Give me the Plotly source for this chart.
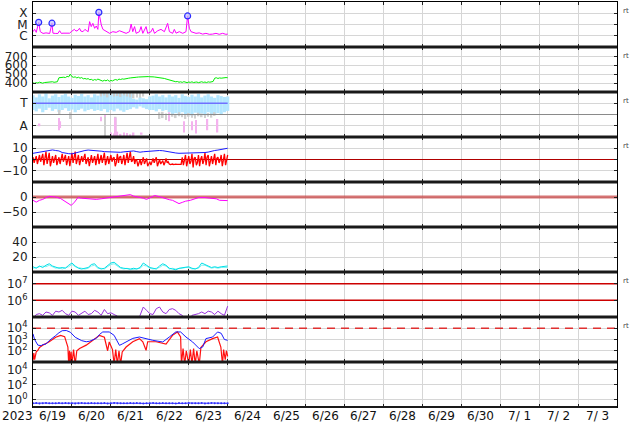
import plotly.graph_objects as go
from plotly.subplots import make_subplots
import pandas as pd

START = pd.Timestamp('2023-06-19')
END = pd.Timestamp('2023-07-04')

# ---------------- data (hours since 2023-06-19 00:00 UT) ----------------
xray_hours = [0, 1.0, 2.0, 3.5, 4.5, 6.2, 8, 10.3, 11.7, 12.3, 14, 15.4, 16.4, 17.5, 18.5, 20.5, 22.6, 23.6,
              24.6, 25.5, 26.5, 27.7, 28.7, 29.5, 30.8, 32.0, 32.8, 34.0, 34.9, 35.9, 36.9, 38.0, 39.0, 40.0,
              40.6, 42.1, 43.1, 45.1, 47.2, 49.2, 51.3, 53.3, 55.4, 57.4, 59.5, 60.5, 61.5, 62.6, 63.6, 65.6,
              66.6, 67.7, 69.7, 70.7, 72.8, 73.8, 74.9, 76.9, 78.9, 81.0, 83.0, 84.1, 86.1, 87.1, 88.2, 90.2,
              92.3, 94.3, 95.3, 96.4, 97.4, 100.5, 102.5, 104.6, 106.6, 108.7, 110.7, 112.8, 114.8, 116.9,
              118.9, 120]
xray_flux = [2.3e-6, 3.7e-6, 2.0e-6, 1.55e-5, 2.3e-6, 1.6e-6, 1.8e-6, 1.6e-6, 1.3e-5, 1.7e-6, 1.6e-6, 1.6e-6,
             2.8e-6, 1.6e-6, 1.7e-6, 1.6e-6, 1.7e-6, 2.3e-6, 2.8e-6, 3.7e-6, 2.6e-6, 3.0e-6, 4.6e-6, 2.6e-6,
             2.3e-6, 3.7e-6, 3.0e-6, 2.3e-6, 1.8e-5, 6.5e-6, 1.26e-5, 4.6e-6, 7.4e-6, 3.7e-6, 1.2e-4, 9.1e-6,
             3.7e-6, 2.3e-6, 1.64e-6, 2.3e-6, 2.0e-6, 2.8e-6, 2.0e-6, 1.64e-6, 2.3e-6, 1.1e-5, 2.3e-6, 6.5e-6,
             1.64e-6, 2.3e-6, 6.5e-6, 1.64e-6, 6.5e-6, 1.64e-6, 2.3e-6, 4.6e-6, 1.64e-6, 2.8e-6, 3.7e-6,
             2.3e-6, 1.26e-5, 2.3e-6, 1.64e-6, 3.7e-6, 1.7e-6, 2.3e-6, 1.64e-6, 2.3e-6, 5.75e-5, 4.6e-6,
             2.3e-6, 1.64e-6, 1.8e-6, 1.4e-6, 1.64e-6, 1.34e-6, 1.4e-6, 1.64e-6, 1.34e-6, 1.64e-6, 1.34e-6,
             1.4e-6]
flare_hours = [3.5, 11.7, 40.6, 95.3]
flare_flux = [1.55e-5, 1.3e-5, 1.2e-4, 5.75e-5]

speed_hours = list(range(121))
speed = [402, 398, 405, 401, 410, 404, 399, 406, 408, 403, 410, 407, 415, 409, 412, 415,
         460, 463, 458, 466, 462, 475, 470, 500, 472, 465,
         470, 458, 466, 455, 462, 448, 452, 445, 450, 438,
         442, 430, 440, 433, 445, 436, 428, 422, 432, 425,
         436, 420, 430, 424, 435, 440, 432, 445, 440, 447,
         444, 450, 452, 455, 458, 462, 460, 463, 466, 468,
         470, 472, 474, 472, 475, 473, 471, 474, 470, 468,
         466, 467, 463, 460, 455, 452, 446, 440, 436, 430,
         424, 420, 415, 418, 410, 414, 408, 416, 410, 405,
         412, 408, 414, 406, 410, 412, 405, 410, 415, 408,
         412, 406, 414, 410, 416, 418, 455, 460, 452, 458,
         455, 460, 457, 462, 460]

hours2 = list(range(0, 121, 2))
# sector panel: T = 0.75, A = 0.25
tband_hi = [0.93, 0.88, 0.95, 0.9, 0.97, 0.86, 0.92, 0.95, 0.89, 0.93, 0.96, 0.9, 0.87, 0.94, 0.91, 0.96, 0.9,
            0.93, 0.88, 0.95, 0.92,
            0.98, 0.97, 0.99, 0.96, 0.98, 0.99, 0.97, 0.95, 0.98, 0.96,
            0.85, 0.83, 0.88, 0.86, 0.84, 0.9,
            0.92, 0.95, 0.9, 0.93, 0.88, 0.94,
            0.9, 0.93, 0.87, 0.95, 0.91, 0.89, 0.94, 0.9, 0.96, 0.88, 0.92, 0.95, 0.9, 0.87, 0.93, 0.91, 0.89, 0.9]
tband_lo = [0.6, 0.57, 0.63, 0.55, 0.6, 0.65, 0.58, 0.62, 0.56, 0.6, 0.64, 0.58, 0.61, 0.55, 0.6, 0.63, 0.57,
            0.6, 0.62, 0.58, 0.6,
            0.58, 0.62, 0.55, 0.6, 0.57, 0.63, 0.59, 0.56, 0.6, 0.62,
            0.66, 0.63, 0.68, 0.65, 0.62, 0.6,
            0.6, 0.57, 0.62, 0.58, 0.6, 0.55,
            0.5, 0.53, 0.48, 0.55, 0.5, 0.52, 0.47, 0.54, 0.5, 0.52, 0.48, 0.55, 0.51, 0.5, 0.53, 0.49, 0.55, 0.58]
gray_hours = [16.4, 23.2, 42, 44, 46, 48, 50, 52, 54, 56, 58, 60, 62, 64, 66, 68, 44.5, 51, 78, 80, 82, 86, 88,
              90, 92, 94, 96, 98, 100, 102, 104, 106, 108, 110, 112]
gray_lo = [0.5, 0.4, 0.9, 0.92, 0.88, 0.93, 0.9, 0.91, 0.89, 0.92, 0.9, 0.88, 0.86, 0.88, 0.87, 0.9, 0.0, 0.1,
           0.4, 0.42, 0.38, 0.45, 0.42, 0.46, 0.44, 0.4, 0.45, 0.43, 0.41, 0.46, 0.44, 0.42, 0.45, 0.43, 0.47]
gray_hi = [0.6, 0.55, 1.0, 1.0, 1.0, 1.0, 0.99, 1.0, 1.0, 0.98, 1.0, 1.0, 0.97, 1.0, 0.98, 0.99, 0.5, 0.45,
           0.55, 0.56, 0.52, 0.52, 0.5, 0.55, 0.52, 0.5, 0.53, 0.51, 0.5, 0.54, 0.52, 0.5, 0.53, 0.52, 0.55]
pink_hours = [4, 16, 16.8, 42, 44.5, 51, 48, 50, 52, 54, 56, 58, 60, 62, 67, 84, 93, 98, 100.5, 107.5, 113.7]
pink_lo = [0.24, 0.15, 0.2, 0.35, 0.45, 0.02, 0.0, 0.0, 0.02, 0.0, 0.01, 0.0, 0.0, 0.02, 0.05, 0.35, 0.1, 0.15,
           0.08, 0.15, 0.1]
pink_hi = [0.3, 0.42, 0.35, 0.45, 0.5, 0.43, 0.1, 0.08, 0.12, 0.07, 0.1, 0.09, 0.06, 0.1, 0.1, 0.55, 0.35, 0.35,
           0.38, 0.4, 0.4]

bt = [5.5, 6, 6.5, 7.4, 7.8, 8.3, 8.5, 8, 7.6, 6.2, 5.4, 5.2, 5, 5.8, 6.6, 7.6, 8, 8.4, 8.3, 8.2, 8, 7.4, 7,
      6.8, 6.4, 6.3, 6.5, 6.4, 6.8, 7, 7.4, 7.6, 7, 6.5, 6.9, 7.1, 7.6, 8, 8.1, 8, 7.8, 7.2, 6.8, 6.3, 5.8,
      5.5, 5.6, 5.4, 5.5, 5.6, 5.5, 5.8, 6, 6.2, 6.6, 7.6, 8, 8.4, 9, 9.6, 10]
bz_hi = [2, 3, 4, 5, 7, 6, 3, 4, 2, 5, 4, 3, 6, 7, 4, 3, 5, 2, 4, 3, 5,
         4, 6, 3, 4, 2, 5, 3, 4, 6, 7, 3,
         -1, 0, 2, 1, -2, 1, 2, 0, -1, 1,
         -4, -4, -4.2, -4,
         2, 4, 3, 5, 2, 4, 3, 6, 4, 3, 5, 2, 4, 5, 4]
bz_lo = [-3, -4, -2, -5, -4, -6, -3, -5, -4, -2, -5, -6, -3, -4, -5, -2, -4, -6, -3, -5, -4,
         -3, -5, -4, -2, -6, -3, -4, -5, -3, -2, -4,
         -6, -5, -4, -6, -5, -3, -6, -4, -5, -3,
         -4.5, -4.6, -4.4, -4.5,
         -5, -6, -4, -7, -5, -6, -4, -5, -6, -4, -5, -3, -6, -5, -2]
# mid-interval values (odd hours between the hi/lo extremes), adds irregularity
bz_mid = [0, -1, 1, 0, 2, -2, 1, -1, 0, 1, -2, 0, 2, -1, 0, 1, -2, 0, 1, -1, 0,
          1, -2, 0, 1, -3, 2, -1, 0, 2, -1, 0,
          -3, -2, -1, -4, -2, -1, -3, -2, -3, -2,
          -4.3, -4.3, -4.3, -4.3,
          -1, 0, -2, 1, -3, 0, -1, 2, -2, 0, 1, -1, 0, 1, 0]

dst_hours = [0, 2, 4, 6, 8, 10, 12, 14, 17, 20.5, 23.6, 25.6, 27.7, 30, 33, 36, 39, 42, 45, 47, 50, 53, 55, 58,
             60, 62, 65, 68, 70, 72, 75, 78, 80, 82, 84, 86, 88, 90, 92, 94, 97, 100, 102, 106, 110, 113, 115,
             118, 120]
dst = [-11, -17, -11, -8, -2, 2, 1, 0, -5, -17, -28, -17, -2, -4, -5, -6, -8, -6, -4, -3, 0, 2, 3, 6, 8, 3, 0,
       -4, -8, -2, 5, 1, -3, -5, -9, -11, -16, -22, -18, -14, -11, -6, -2, -2, -3, -6, -11, -13, -12]

dens1 = [7, 5, 8, 6, 9, 11, 8, 6, 5, 6, 5, 9, 12, 8, 5, 4, 5, 6, 10, 11, 6, 4, 5, 9, 12, 13, 9, 6, 5, 4,
         4, 5, 4, 6, 12, 9, 6, 5, 4, 8, 11, 9, 5, 4, 3, 5, 6, 7, 7, 5, 4, 6, 12, 10, 8, 6, 7, 6, 7, 7, 8]
dens2 = [5, 6, 6, 8, 7, 9, 7, 5, 6, 4, 6, 7, 10, 7, 6, 5, 4, 5, 8, 9, 5, 5, 4, 7, 10, 11, 8, 5, 4, 5,
         3, 4, 5, 5, 9, 8, 5, 4, 5, 6, 9, 8, 4, 5, 4, 4, 5, 6, 6, 4, 5, 5, 9, 9, 7, 5, 6, 5, 6, 6, 6]

elec2_log = [4.9, 5.15, 5.2, 5.1, 5.3, 5.25, 5.1, 5.35, 5.3, 5.4, 5.2, 5.1, 5.35, 5.3, 5.1, 5.25, 5.35, 5.15,
             5.2, 5.4, 5.3, 5.1, 5.45, 5.2, 5.25, 5.15, 5.05,
             4.8, 4.8, 4.8, 4.8, 4.8, 4.8,
             5.1, 5.6, 5.4, 5.2, 5.15, 5.5, 5.6, 5.3, 5.2, 5.45, 5.5, 5.4, 5.2, 5.1, 4.9, 4.8, 5.1, 5.15, 5.2,
             5.3, 5.2, 5.35, 5.3, 5.15, 5.35, 5.2, 5.1, 5.65]

e_blue_hours = [0, 1, 3, 5, 6, 8, 10, 12, 14, 16, 18, 20.5, 23, 26, 28.7, 30, 32.8, 35, 39, 41, 43, 47, 50, 52,
                53.3, 55, 57.4, 61.5, 65.6, 69.7, 73.8, 77, 80, 84, 88, 91, 94.3, 98.4, 100.5, 102.5, 104.6,
                106.6, 110.7, 113.8, 116, 118, 120]
e_blue_log = [3.5, 3.0, 2.5, 2.45, 2.55, 2.6, 2.9, 3.1, 3.35, 3.6, 3.78, 3.8, 3.65, 3.2, 2.95, 2.9, 2.8, 2.85,
              3.1, 3.45, 3.67, 3.67, 3.37, 2.9, 2.48, 2.6, 2.8, 3.1, 3.22, 3.05, 2.93, 2.85, 2.78, 3.22, 3.67,
              3.67, 3.22, 2.78, 2.5, 2.19, 2.33, 3.08, 3.22, 3.67, 3.55, 3.0, 2.93]
e_red_hours = [0, 0.5, 1, 2, 3, 4, 6, 10, 14, 17, 19.5, 21.5, 22, 22.5, 23, 23.5, 24, 25, 26, 27, 28.7, 32.8,
               36.9, 41, 44, 46, 47, 49, 50, 51, 52, 53, 54, 55, 57.4, 61.5, 65.6, 67.7, 69.7, 70.7, 75.9, 82,
               86, 89, 91, 91.5, 92.5, 93.5, 94.5, 96, 97, 98, 99, 100, 101, 102.5, 103.5, 106.6, 110.7, 113.8,
               115.8, 116.8, 117.5, 118.5, 119.2, 120]
e_red_log = [1.15, 1.8, 1.2, 1.9, 2.04, 2.3, 2.48, 2.8, 3.2, 3.37, 3.25, 2.33, 0.8, 2.0, 0.8, 1.9, 0.8, 2.1,
             0.8, 2.0, 2.2, 2.5, 2.93, 3.37, 3.2, 2.0, 2.78, 2.1, 0.8, 2.1, 0.8, 2.0, 0.8, 1.9, 2.33, 2.8, 3.08,
             2.8, 2.04, 2.8, 2.8, 2.6, 3.37, 3.67, 3.22, 0.8, 2.2, 0.8, 2.0, 0.8, 2.1, 0.8, 2.2, 0.8, 2.0, 0.8,
             2.3, 2.8, 3.08, 3.22, 2.33, 0.8, 2.1, 1.2, 2.0, 1.5]

bottom_log = [-0.5, -0.48, -0.52, -0.5, -0.47, -0.5, -0.49, -0.51, -0.48, -0.5,
              -0.46, -0.5, -0.49, -0.52, -0.5, -0.48, -0.5, -0.51, -0.47, -0.5,
              -0.49, -0.5, -0.48, -0.52, -0.5, -0.46, -0.5, -0.49, -0.51, -0.5,
              -0.48, -0.5, -0.47, -0.5, -0.52, -0.49, -0.5, -0.48, -0.51, -0.5,
              -0.45, -0.5, -0.49, -0.5, -0.52, -0.48, -0.5, -0.5, -0.47, -0.51,
              -0.5, -0.49, -0.48, -0.52, -0.5, -0.47, -0.5, -0.49, -0.51, -0.5, -0.5]

day_labels = ['6/19', '6/20', '6/21', '6/22', '6/23', '6/24', '6/25', '6/26', '6/27', '6/28', '6/29',
              '6/30', '7/\u00a01', '7/\u00a02', '7/\u00a03']
year_label = '2023'

# ---------------- helpers ----------------
def t(hours):
    return [START + pd.Timedelta(hours=h) for h in hours]

FULL = [START, END]
DATA_SPAN = t([0, 120])

fig = make_subplots(rows=9, cols=1, shared_xaxes=True, vertical_spacing=0)

def add(tr, row):
    fig.add_trace(tr, row=row, col=1)

def hline(y, row, color, width=1, dash=None):
    add(go.Scatter(x=FULL, y=[y, y], mode='lines', line=dict(color=color, width=width, dash=dash),
                   hoverinfo='skip'), row)

# Row 1: X-ray
add(go.Scatter(x=t(xray_hours), y=xray_flux, mode='lines', line=dict(color='#ff00ff', width=1)), 1)
add(go.Scatter(x=t(flare_hours), y=flare_flux, mode='markers',
               marker=dict(symbol='circle', size=6, color='rgba(190,190,255,0.7)',
                           line=dict(color='#2a2aff', width=1.2))), 1)

# Row 2: solar wind speed
add(go.Scatter(x=t(speed_hours), y=speed, mode='lines', line=dict(color='#00ee00', width=1)), 2)

# Row 3: sector
add(go.Bar(x=t(hours2), y=[h - l for h, l in zip(tband_hi, tband_lo)], base=tband_lo, width=2 * 3600 * 1000,
           marker=dict(color='#b3e6ff', line=dict(width=0))), 3)
add(go.Bar(x=t(gray_hours), y=[h - l for h, l in zip(gray_hi, gray_lo)], base=gray_lo, width=1 * 3600 * 1000,
           marker=dict(color='#cfcfcf', line=dict(width=0))), 3)
add(go.Bar(x=t(pink_hours), y=[h - l for h, l in zip(pink_hi, pink_lo)], base=pink_lo, width=1 * 3600 * 1000,
           marker=dict(color='#f4b2ee', line=dict(width=0))), 3)
add(go.Scatter(x=FULL, y=[0.5, 0.5], mode='lines', line=dict(color='#8a8a8a', width=1)), 3)
add(go.Scatter(x=DATA_SPAN, y=[0.75, 0.75], mode='lines', line=dict(color='#7070ff', width=1.5)), 3)

# Row 4: IMF
hline(0, 4, '#b00000', 1.2)
bz_x, bz_y = [], []
for k in range(len(bz_hi)):
    bz_x.append(2 * k); bz_y.append(bz_hi[k])
    if k < len(bz_hi) - 1:
        bz_x += [2 * k + 0.7, 2 * k + 1.3]
        bz_y += [bz_lo[k], bz_mid[k]]
add(go.Scatter(x=t(bz_x), y=bz_y, mode='lines', line=dict(color='#ff0000', width=1.3)), 4)
add(go.Scatter(x=t(hours2), y=bt, mode='lines', line=dict(color='#1a1aff', width=1)), 4)

# Row 5: Dst
hline(0, 5, 'rgba(200,70,70,0.75)', 3)
add(go.Scatter(x=t(dst_hours), y=dst, mode='lines', line=dict(color='#ff00ff', width=1)), 5)

# Row 6: density
add(go.Scatter(x=t(hours2), y=dens2, mode='lines', line=dict(color='#7ff3f3', width=1)), 6)
add(go.Scatter(x=t(hours2), y=dens1, mode='lines', line=dict(color='#00e0e8', width=1)), 6)

# Row 7: >2MeV electrons
hline(1e6, 7, '#cc0000', 1.5)
hline(1e7, 7, '#cc0000', 1.5)
add(go.Scatter(x=t(hours2), y=[10 ** v for v in elec2_log], mode='lines', line=dict(color='#9933dd', width=1)), 7)

# Row 8
hline(1e4, 8, '#e03030', 1.5, '8px,6px')
add(go.Scatter(x=t(e_red_hours), y=[10 ** v for v in e_red_log], mode='lines', line=dict(color='#ff1010', width=1.2)), 8)
add(go.Scatter(x=t(e_blue_hours), y=[10 ** v for v in e_blue_log], mode='lines', line=dict(color='#1a1aff', width=1)), 8)

# Row 9
add(go.Scatter(x=t(hours2), y=[10 ** v for v in bottom_log], mode='lines+markers',
               line=dict(color='#3030ff', width=1), marker=dict(color='#3030ff', size=2)), 9)

# ---------------- axes ----------------
FONT = 'DejaVu Sans'
yconf = {
    1: dict(type='log', range=[-7, -3], tickvals=[1e-6, 1e-5, 1e-4], ticktext=['C', 'M', 'X']),
    2: dict(range=[300, 805], tickvals=[400, 500, 600, 700]),
    3: dict(range=[0, 1], tickvals=[0.25, 0.75], ticktext=['A', 'T']),
    4: dict(range=[-20, 20], tickvals=[-10, 0, 10]),
    5: dict(range=[-100, 50], tickvals=[-50, 0]),
    6: dict(range=[0, 60], tickvals=[20, 40]),
    7: dict(type='log', range=[5, 7.7], tickvals=[1e6, 1e7], ticktext=['10<sup>6</sup>', '10<sup>7</sup>']),
    8: dict(type='log', range=[1, 5], tickvals=[1e2, 1e3, 1e4],
            ticktext=['10<sup>2</sup>', '10<sup>3</sup>', '10<sup>4</sup>']),
    9: dict(type='log', range=[-1, 5], tickvals=[1, 1e2, 1e4],
            ticktext=['10<sup>0</sup>', '10<sup>2</sup>', '10<sup>4</sup>']),
}
for i in range(1, 10):
    xa = 'xaxis' if i == 1 else f'xaxis{i}'
    ya = 'yaxis' if i == 1 else f'yaxis{i}'
    fig.layout[xa].update(type='date', range=['2023-06-19', '2023-07-04'], dtick=86400000, tick0='2023-06-19',
                          showgrid=True, gridcolor='#d6d6d6', gridwidth=1, ticks='inside', ticklen=3,
                          tickcolor='#222', showline=True, linecolor='black', linewidth=1, mirror='ticks',
                          zeroline=False, showticklabels=False, automargin=False)
    fig.layout[ya].update(showgrid=True, gridcolor='#d6d6d6', gridwidth=1, ticks='inside', ticklen=3,
                          tickcolor='#222', showline=True, linecolor='black', linewidth=1, mirror='ticks',
                          zeroline=False, automargin=False, ticklabelstandoff=2,
                          tickfont=dict(family=FONT, size=12, color='#222'), **yconf[i])

shapes = []
for k in range(1, 9):
    shapes.append(dict(type='line', xref='paper', yref='paper', x0=0, x1=1, y0=k / 9, y1=k / 9,
                       line=dict(color='#1a1a1a', width=3)))
shapes.append(dict(type='line', xref='paper', yref='paper', x0=0, x1=1, y0=0, y1=0,
                   line=dict(color='#1a1a1a', width=2)))

annotations = [dict(text=year_label, xref='paper', yref='paper', x=-0.0257, y=-0.022, showarrow=False,
                    xanchor='center', yanchor='middle', font=dict(family=FONT, size=12, color='#111'))]
for d, lab in enumerate(day_labels):
    annotations.append(dict(text=lab, xref='x9', yref='paper', x=START + pd.Timedelta(hours=24 * d + 12),
                            y=-0.022, showarrow=False, xanchor='center', yanchor='middle',
                            font=dict(family=FONT, size=12, color='#111')))
for r in [1, 2, 3, 4, 7, 8]:
    top = 1 - (r - 1) / 9
    annotations.append(dict(text='rt', xref='paper', yref='paper', x=1.007, y=top - 9 / 405, showarrow=False,
                            xanchor='left', yanchor='middle', font=dict(family=FONT, size=7, color='#444')))

fig.update_layout(width=634, height=424, margin=dict(l=33, r=17, t=2, b=17, pad=0, autoexpand=False),
                  paper_bgcolor='white', plot_bgcolor='white', showlegend=False, barmode='overlay',
                  font=dict(family=FONT, size=12, color='#222'), shapes=shapes, annotations=annotations)

fig.write_html('out.html', config={'displayModeBar': False},
               post_script="document.body.style.margin='0px';document.body.style.overflow='hidden';")
